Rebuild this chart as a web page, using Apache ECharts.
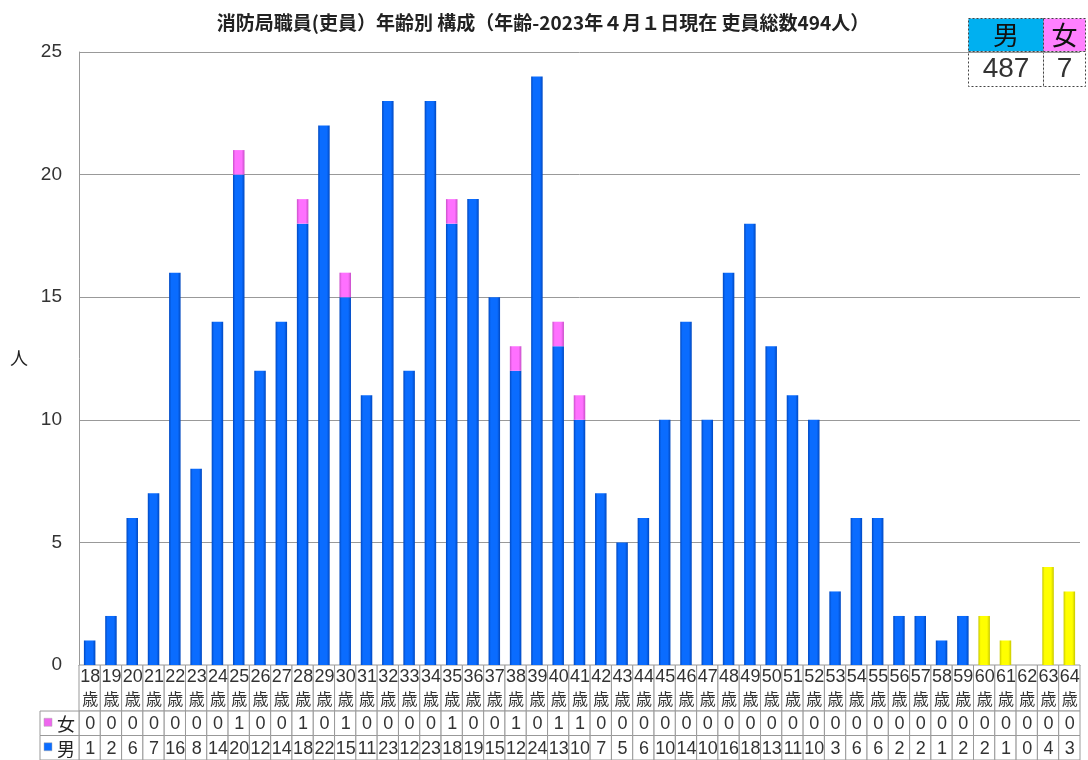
<!DOCTYPE html>
<html><head><meta charset="utf-8">
<script src="https://cdn.jsdelivr.net/npm/echarts@6/dist/echarts.min.js"></script>
<style>html,body{margin:0;padding:0;background:#fff}#c{width:1088px;height:760px}</style>
</head><body><div id="c"></div>
<script>
const ages = [18,19,20,21,22,23,24,25,26,27,28,29,30,31,32,33,34,35,36,37,38,39,40,41,42,43,44,45,46,47,48,49,50,51,52,53,54,55,56,57,58,59,60,61,62,63,64];
const female = [0,0,0,0,0,0,0,1,0,0,1,0,1,0,0,0,0,1,0,0,1,0,1,1,0,0,0,0,0,0,0,0,0,0,0,0,0,0,0,0,0,0,0,0,0,0,0];
const male = [1,2,6,7,16,8,14,20,12,14,18,22,15,11,23,12,23,18,19,15,12,24,13,10,7,5,6,10,14,10,16,18,13,11,10,3,6,6,2,2,1,2,2,1,0,4,3];
const yTicks = [0,5,10,15,20,25];
const seniorAge = 60;

const totalMale = male.reduce((a,b)=>a+b,0);
const totalFemale = female.reduce((a,b)=>a+b,0);
const cats = ages.map(a=>String(a));

function grad(c1,c2){
  return {type:'linear',x:0,y:0,x2:1,y2:0,colorStops:[
    {offset:0,color:c2},{offset:0.2,color:c1},{offset:0.75,color:c1},{offset:1,color:c2}]};
}
const blue = grad('#0a6cff','#0048c0');
const yellow = grad('#ffff00','#c8c800');
const pink = grad('#ff70ff','#c850c8');

const FONT = '"Liberation Sans", Arial, sans-serif';
const JP = '"Noto Sans CJK JP", sans-serif';
// table row bands (value coords on grid 1's y axis)
const ROW = {male:[0,25], female:[25,50], age:[50,97]};

const tableData = [];
ages.forEach((a,i)=>{
  tableData.push([i,'age',String(a)]);
  tableData.push([i,'female',String(female[i])]);
  tableData.push([i,'male',String(male[i])]);
});

const chart = echarts.init(document.getElementById('c'));
chart.setOption({
  animation:false,
  title:{text:'消防局職員(吏員）年齢別 構成（年齢-2023年４月１日現在 吏員総数'+(totalMale+totalFemale)+'人）',
    left:538, top:8, textAlign:'center',
    textStyle:{fontFamily:JP,fontSize:19,fontWeight:'bold',color:'#222'}},
  grid:[{left:79,right:8,top:52,bottom:95},{left:79,right:8,top:665,height:97}],
  xAxis:[
    {type:'category',data:cats,gridIndex:0,axisLine:{show:true,lineStyle:{color:'#999'}},axisTick:{show:false},axisLabel:{show:false}},
    {type:'category',data:cats,gridIndex:1,axisLine:{show:false},axisTick:{show:false},axisLabel:{show:false}}
  ],
  yAxis:[
    {type:'value',gridIndex:0,min:0,max:25,interval:5,
     axisLine:{show:true,lineStyle:{color:'#999'}},axisTick:{show:false},
     splitLine:{lineStyle:{color:'#999',width:1}},
     axisLabel:{margin:17,fontSize:19,color:'#333',fontFamily:FONT},
     name:'人',nameLocation:'middle',nameRotate:0,nameGap:51,
     nameTextStyle:{fontFamily:JP,fontSize:18,color:'#222'}},
    {type:'value',gridIndex:1,min:0,max:97,show:false}
  ],
  series:[
    {name:'男',type:'bar',stack:'s',xAxisIndex:0,yAxisIndex:0,barWidth:'54%',
     data:male.map((v,i)=>({value:v,itemStyle:{color: ages[i]>=seniorAge? yellow: blue}})),
     itemStyle:{color:blue}},
    {name:'女',type:'bar',stack:'s',xAxisIndex:0,yAxisIndex:0,barWidth:'54%',
     data:female, itemStyle:{color:pink}},
    {type:'custom',xAxisIndex:1,yAxisIndex:1,clip:false,silent:true,
     data:tableData,
     renderItem:function(params,api){
       const i = api.value(0);
       const d = tableData[params.dataIndex];
       const band = ROW[d[1]];
       const p0 = api.coord([i,band[0]]);
       const p1 = api.coord([i,band[1]]);
       const w = api.size([1,0])[0];
       const x = p0[0]-w/2, y = p1[1], h = p0[1]-p1[1];
       const isAge = d[1]==='age';
       const kids = [{type:'rect',shape:{x:x,y:y,width:w,height:h},style:{fill:'#fff',stroke:'#999',lineWidth:1}}];
       if (isAge) {
         kids.push({type:'text',style:{text:d[2],x:x+w/2+0.5,y:y+12,align:'center',verticalAlign:'middle',fontFamily:FONT,fontSize:18,fill:'#333'}});
         kids.push({type:'text',style:{text:'歳',x:x+w/2+0.5,y:y+34,align:'center',verticalAlign:'middle',fontFamily:JP,fontSize:16,fill:'#333'}});
       } else {
         kids.push({type:'text',style:{text:d[2],x:x+w/2+0.5,y:y+h/2+1,align:'center',verticalAlign:'middle',fontFamily:FONT,fontSize:18,fill:'#333'}});
       }
       return {type:'group',children:kids};
     }},
    {type:'custom',xAxisIndex:1,yAxisIndex:1,clip:false,silent:true,
     data:[[0,'female','女','#ee66ee'],[0,'male','男','#0a6cff']],
     renderItem:function(params,api){
       const d = [[0,'female','女','#ee66ee'],[0,'male','男','#0a6cff']][params.dataIndex];
       const band = ROW[d[1]];
       const p0 = api.coord([0,band[0]]);
       const p1 = api.coord([0,band[1]]);
       const w = api.size([1,0])[0];
       const right = p0[0]-w/2, left = right-39, y = p1[1], h = p0[1]-p1[1];
       return {type:'group',children:[
         {type:'rect',shape:{x:left,y:y,width:39,height:h},style:{fill:'#fff',stroke:'#999',lineWidth:1}},
         {type:'rect',shape:{x:left+4,y:y+h/2-5,width:8,height:8},style:{fill:d[3],stroke:'#aaa',lineWidth:0.5}},
         {type:'text',style:{text:d[2],x:left+26,y:y+h/2+1,align:'center',verticalAlign:'middle',fontFamily:JP,fontSize:18,fill:'#222'}}
       ]};
     }}
  ],
  graphic:[
    {type:'group',left:968,top:18,children:[
      {type:'rect',shape:{x:0,y:0,width:75,height:33},style:{fill:'#00b0f0',stroke:'#444',lineWidth:1,lineDash:[2,2]}},
      {type:'rect',shape:{x:75,y:0,width:42,height:33},style:{fill:'#ff80ff',stroke:'#444',lineWidth:1,lineDash:[2,2]}},
      {type:'rect',shape:{x:0,y:33,width:75,height:35},style:{fill:'#fff',stroke:'#444',lineWidth:1,lineDash:[2,2]}},
      {type:'rect',shape:{x:75,y:33,width:42,height:35},style:{fill:'#fff',stroke:'#444',lineWidth:1,lineDash:[2,2]}},
      {type:'text',style:{text:'男',x:37.5,y:17,align:'center',verticalAlign:'middle',fontFamily:JP,fontSize:26,fill:'#111'}},
      {type:'text',style:{text:'女',x:96,y:17,align:'center',verticalAlign:'middle',fontFamily:JP,fontSize:26,fill:'#111'}},
      {type:'text',style:{text:String(totalMale),x:37.5,y:51,align:'center',verticalAlign:'middle',fontFamily:FONT,fontSize:28,fill:'#333'}},
      {type:'text',style:{text:String(totalFemale),x:96,y:51,align:'center',verticalAlign:'middle',fontFamily:FONT,fontSize:28,fill:'#333'}}
    ]}
  ]
});
</script></body></html>
